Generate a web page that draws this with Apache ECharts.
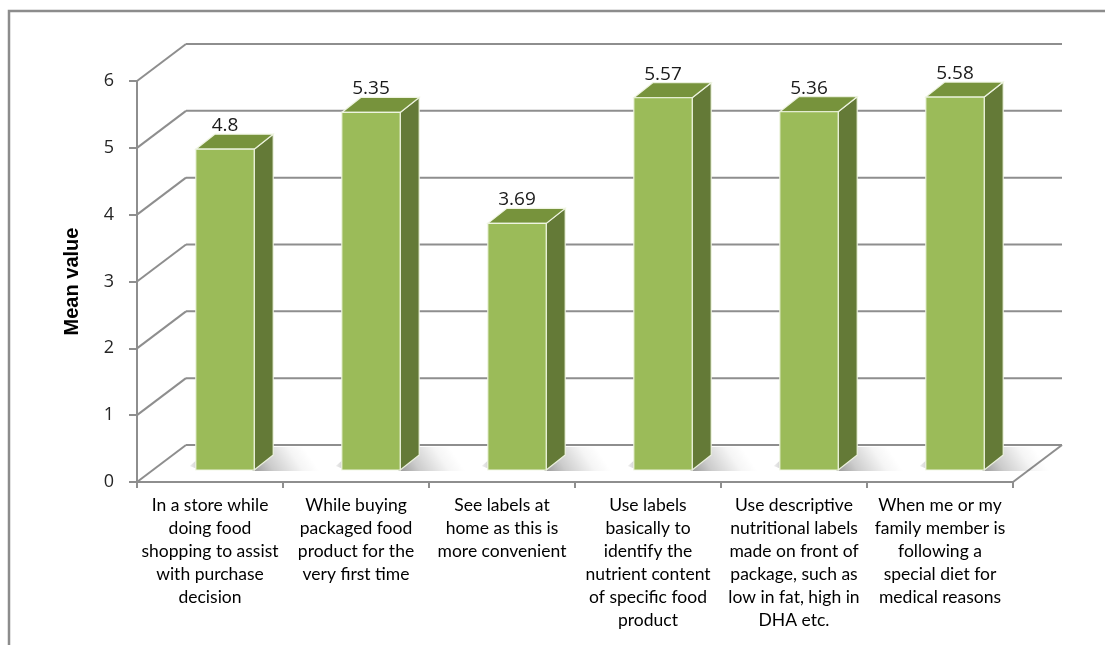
<!DOCTYPE html>
<html><head><meta charset="utf-8">
<script src="https://cdn.jsdelivr.net/npm/echarts@6/dist/echarts.min.js"></script>
<style>html,body{margin:0;padding:0;background:#fff}#c{width:1105px;height:645px}</style>
</head><body><div id="c"></div>
<script>
const categories = [
  "In a store while\ndoing food\nshopping to assist\nwith purchase\ndecision",
  "While buying\npackaged food\nproduct for the\nvery first time",
  "See labels at\nhome as this is\nmore convenient",
  "Use labels\nbasically to\nidentify the\nnutrient content\nof specific food\nproduct",
  "Use descriptive\nnutritional labels\nmade on front of\npackage, such as\nlow in fat, high in\nDHA etc.",
  "When me or my\nfamily member is\nfollowing a\nspecial diet for\nmedical reasons"
];
const meanValues = [4.8, 5.35, 3.69, 5.57, 5.36, 5.58];
const yTicks = [0, 1, 2, 3, 4, 5, 6];
const yAxisTitle = "Mean value";

const DEPTH = [49, -37];
const BAR_SHIFT = [15, -12];
const BAR_DEPTH = [19, -15];
const GRID_COLOR = '#8e8e8e';

function renderWall(params, api) {
  const cs = params.coordSys;
  const v = api.value(1);
  const y = api.coord([0, v])[1];
  const x0 = cs.x, x1 = cs.x + cs.width;
  const ls = {stroke: GRID_COLOR, lineWidth: 2};
  const children = [
    {type: 'line', shape: {x1: x0, y1: y, x2: x0 + DEPTH[0], y2: y + DEPTH[1]}, style: ls},
    {type: 'line', shape: {x1: x0 + DEPTH[0], y1: y + DEPTH[1], x2: x1 + DEPTH[0], y2: y + DEPTH[1]}, style: ls}
  ];
  if (v === 0) {
    children.push({type: 'line', shape: {x1: x1, y1: y, x2: x1 + DEPTH[0], y2: y + DEPTH[1]}, style: ls});
  }
  return {type: 'group', children};
}

function renderBar(params, api) {
  const i = api.value(0), v = api.value(1);
  const base = api.coord([i, 0]), top = api.coord([i, v]);
  const band = api.size([1, 0])[0];
  const w = band * 0.4;
  const cx = base[0] + BAR_SHIFT[0];
  const xl = cx - w / 2, xr = cx + w / 2;
  const yb = base[1] + BAR_SHIFT[1], yt = top[1] + BAR_SHIFT[1];
  const dx = BAR_DEPTH[0], dy = BAR_DEPTH[1];
  const edge = {stroke: 'rgba(240,245,228,0.95)', lineWidth: 1.2};
  const shadowRight = new echarts.graphic.LinearGradient(xr, yb, xr + 45, yb - 30, [
    {offset: 0, color: 'rgba(0,0,0,0.38)'},
    {offset: 0.3, color: 'rgba(0,0,0,0.2)'},
    {offset: 0.75, color: 'rgba(0,0,0,0.04)'},
    {offset: 1, color: 'rgba(0,0,0,0)'}
  ], true);
  const shadowLeft = new echarts.graphic.LinearGradient(xl - 10, 0, xl + 4, 0, [
    {offset: 0, color: 'rgba(0,0,0,0)'},
    {offset: 1, color: 'rgba(0,0,0,0.22)'}
  ], true);
  return {type: 'group', children: [
    {type: 'polygon', shape: {points: [[xr - 2, yb + 1], [xr + dx, yb + dy - 8], [xr + dx + 60, yb + dy - 8], [xr + 72, yb + 1]]},
      style: {fill: shadowRight}},
    {type: 'polygon', shape: {points: [[xl - 6, yb - 4], [xl + 4, yb], [xl + dx, yb + dy], [xl + dx - 8, yb + dy - 4]]},
      style: {fill: shadowLeft}},
    {type: 'polygon', shape: {points: [[xr, yt], [xr + dx, yt + dy], [xr + dx, yb + dy], [xr, yb]]}, style: Object.assign({fill: '#647a37'}, edge)},
    {type: 'polygon', shape: {points: [[xl, yt], [xr, yt], [xr + dx, yt + dy], [xl + dx, yt + dy]]}, style: Object.assign({fill: '#77933c'}, edge)},
    {type: 'rect', shape: {x: xl, y: yt, width: w, height: yb - yt}, style: Object.assign({fill: '#9bbb59'}, edge)},
    {type: 'text', style: {text: String(v), x: cx, y: yt + dy + 1, align: 'center', verticalAlign: 'bottom', fill: '#1a1a1a', fontSize: 19, fontFamily: 'Open Sans'}}
  ]};
}

const chart = echarts.init(document.getElementById('c'), null, {renderer: 'canvas'});
chart.setOption({
  animation: false,
  backgroundColor: '#ffffff',
  graphic: [{type: 'rect', x: 9, y: 11, z: -10, shape: {x: 0, y: 0, width: 1300, height: 900},
    style: {fill: null, stroke: '#8c8c8c', lineWidth: 2.5}}],
  grid: {left: 137, right: 92, top: 81, bottom: 163},
  xAxis: {
    type: 'category', data: categories,
    axisLine: {lineStyle: {color: GRID_COLOR, width: 2}},
    axisTick: {show: true, length: 6, lineStyle: {color: GRID_COLOR, width: 2}},
    axisLabel: {interval: 0, margin: 12, color: '#000', fontFamily: 'Lato', fontSize: 17.5, lineHeight: 23, align: 'center'},
    splitLine: {show: false}
  },
  yAxis: {
    type: 'value', min: 0, max: 6, interval: 1,
    name: yAxisTitle, nameLocation: 'middle', nameGap: 55, nameRotate: 90,
    nameTextStyle: {color: '#000', fontFamily: 'Liberation Sans', fontWeight: 'bold', fontSize: 20},
    axisLine: {show: true, lineStyle: {color: GRID_COLOR, width: 2}},
    axisTick: {show: true, length: 8, lineStyle: {color: GRID_COLOR, width: 2}},
    axisLabel: {margin: 23, color: '#262626', fontFamily: 'Open Sans', fontSize: 18},
    splitLine: {show: false}
  },
  series: [
    {type: 'custom', renderItem: renderWall, data: yTicks.map(v => [0, v]), z: 1, silent: true},
    {type: 'custom', renderItem: renderBar, data: meanValues.map((v, i) => [i, v]), z: 3, silent: true}
  ]
});
</script></body></html>
